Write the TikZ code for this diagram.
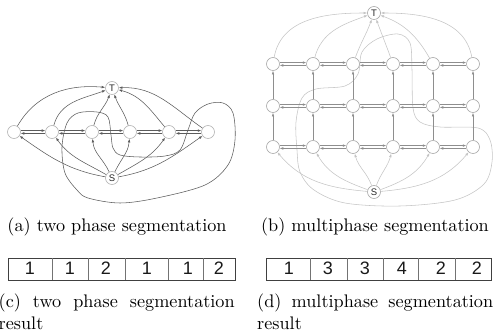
\documentclass[tikz,border=0pt]{standalone}
\usepackage{fontspec}
\newfontfamily\arialf{Liberation Sans}
\newfontfamily\capfont{lmroman10-regular.otf}
\usetikzlibrary{arrows.meta}
\definecolor{edgeA}{HTML}{5C5C5C}
\definecolor{ringA}{HTML}{B4B4B4}
\definecolor{gridB}{HTML}{8E8E8E}
\definecolor{lightB}{HTML}{C4C4C4}
\definecolor{ringB}{HTML}{A8A8A8}
\begin{document}
\begin{tikzpicture}[x=1pt,y=1pt,
  vtx/.style={circle,draw=ringA,fill=white,minimum size=13pt,inner sep=0pt,line width=0.6pt,
    font=\arialf\fontsize{9.5}{9.5}\selectfont,text=black!85},
  vtxb/.style={vtx,draw=ringB},
  arr/.style={-{Latex[length=3.6pt,width=2.6pt]},line width=0.55pt,draw=edgeA},
  arrg/.style={arr,draw=gridB},
  arrl/.style={arr,draw=lightB},
  loopline/.style={line width=0.55pt},
  capt/.style={font=\capfont\fontsize{18.2}{21.8}\selectfont,inner sep=0pt},
  digit/.style={font=\arialf\fontsize{18}{18}\selectfont,inner sep=0pt,anchor=base,text=black!90},
  boxline/.style={line width=0.7pt,draw=black!75},
  divline/.style={line width=0.6pt,draw=black!55}]
\useasboundingbox (0,0) rectangle (496,332);

% ---------------- (a) two phase graph ----------------
\draw[loopline,draw=edgeA] plot[smooth cycle,tension=0.55] coordinates {
  (88,134) (77,142) (65,159) (62,185) (67,209) (78,219) (97,220) (108,215)
  (111,197) (113,184) (120,177) (140,175) (165,176) (180,182) (188,202)
  (195,219) (208,228) (223,229) (233,219) (235,192) (228,167) (205,147)
  (157,134) (120,129)};
\foreach \i/\x in {1/14,2/52,3/92,4/130,5/169,6/208}
  \node[vtx] (a\i) at (\x,200) {};
\node[vtx] (aT) at (112,244) {T};
\node[vtx] (aS) at (112,154) {S};
\foreach \i/\j in {1/2,2/3,3/4,4/5,5/6}{
  \draw[arr] (a\i.12) -- (a\j.168);
  \draw[arr] (a\j.-168) -- (a\i.-12);
}
\draw[arr] (a1) to[out=60,in=175] (aT);
\draw[arr] (a2) to[out=75,in=200] (aT);
\draw[arr] (a3) to[out=75,in=250] (aT);
\draw[arr] (a4) to[out=105,in=290] (aT);
\draw[arr] (a5) to[out=130,in=-15] (aT);
\draw[arr] (a6) to[out=145,in=2] (aT);
\draw[arr] (aS) to[out=170,in=-35] (a1);
\draw[arr] (aS) to[out=150,in=-55] (a2);
\draw[arr] (aS) to[out=115,in=-85] (a3);
\draw[arr] (aS) to[out=65,in=-95] (a4);
\draw[arr] (aS) to[out=30,in=-125] (a5);
\draw[arr] (aS) to[out=10,in=-145] (a6);

% ---------------- (b) multiphase graph ----------------
\draw[loopline,draw=lightB] plot[smooth cycle,tension=0.55] coordinates {
  (297,182) (296,210) (302,234) (316,243) (345,246) (358,258) (362,280)
  (377,293) (398,298) (410,289) (412,262) (413,224) (420,210) (440,205)
  (478,204) (490,192) (492,170) (484,148) (455,132) (400,126) (345,129)
  (314,142) (300,160)};
\foreach \r/\y in {1/268,2/226,3/185}
  \foreach \c/\x in {1/273,2/313,3/353,4/393,5/433,6/473}
    \node[vtxb] (b\r\c) at (\x,\y) {};
\node[vtxb] (bT) at (374,319) {T};
\node[vtxb] (bS) at (374,140) {S};
\foreach \r in {1,2,3}
  \foreach \c/\d in {1/2,2/3,3/4,4/5,5/6}{
    \draw[arrg] (b\r\c.12) -- (b\r\d.168);
    \draw[arrg] (b\r\d.-168) -- (b\r\c.-12);
  }
\foreach \c in {1,...,6}{
  \draw[arrg] (b2\c.north) -- (b1\c.south);
  \draw[arrg] (b3\c.north) -- (b2\c.south);
}
\draw[arrl] (b11) to[out=80,in=180] (bT);
\draw[arrl] (b12) to[out=75,in=200] (bT);
\draw[arrl] (b13) to[out=70,in=250] (bT);
\draw[arrl] (b14) to[out=110,in=-70] (bT);
\draw[arrl] (b15) to[out=120,in=-20] (bT);
\draw[arrl] (b16) to[out=100,in=0] (bT);
\draw[arrl] (bS) to[out=175,in=-50] (b31);
\draw[arrl] (bS) to[out=160,in=-60] (b32);
\draw[arrl] (bS) to[out=110,in=-75] (b33);
\draw[arrl] (bS) to[out=70,in=-105] (b34);
\draw[arrl] (bS) to[out=20,in=-120] (b35);
\draw[arrl] (bS) to[out=5,in=-130] (b36);

% ---------------- captions (a),(b) ----------------
\node[capt,anchor=base] (capa) at (117,100) {(a) two phase segmentation};
\node[capt,anchor=base] (capb) at (375,100) {(b) multiphase segmentation};

% ---------------- (c) result strip ----------------
\draw[boxline] (8,52) rectangle (235,74);
\foreach \x in {52,88,125,168,203} \draw[divline] (\x,52.4) -- (\x,73.6);
\foreach \x/\t in {30/1,70/1,106/2,147/1,188/1,219/2}
  \node[digit] at (\x,57.5) {\t};

% ---------------- (d) result strip ----------------
\draw[boxline] (266,52) rectangle (491,74);
\foreach \x in {310,347,383,418,455} \draw[divline] (\x,52.4) -- (\x,73.6);
\foreach \x/\t in {289/1,328/3,365/3,402/4,441/2,477/2}
  \node[digit] at (\x,57.5) {\t};

% ---------------- captions (c),(d) ----------------
\node[capt,anchor=north west,text width=236pt,align=justify] (capc) at (-1.5,38.5)
  {\noindent(c) two phase segmentation\linebreak result};
\node[capt,anchor=north west,text width=236pt,align=justify] (capd) at (257,38.5)
  {\noindent(d) multiphase segmentation\linebreak result};
\end{tikzpicture}
\end{document}
